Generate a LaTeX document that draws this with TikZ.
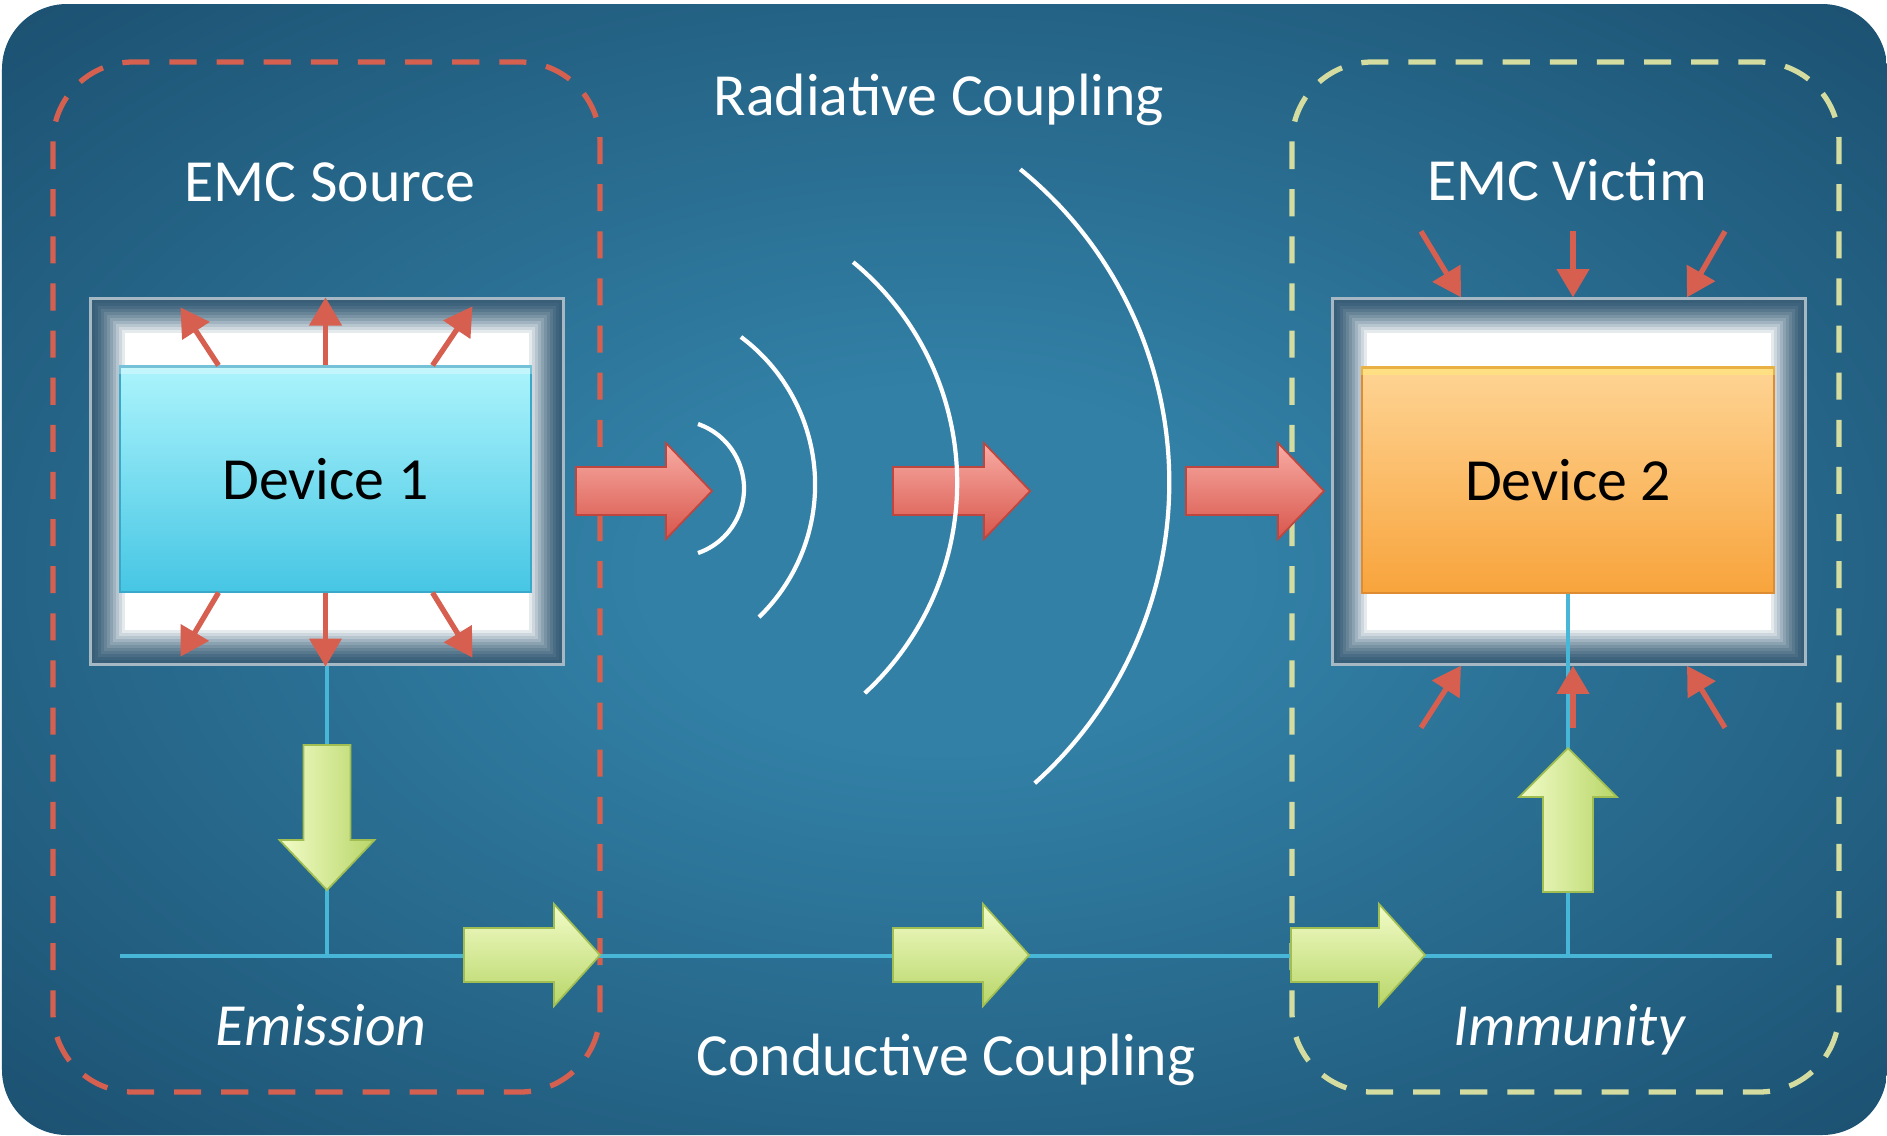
\documentclass[tikz,border=0pt]{standalone}
\usepackage{fontspec}
\setmainfont{Carlito}
\usetikzlibrary{arrows.meta,calc}

\definecolor{bgin}{RGB}{50,128,166}
\definecolor{bgout}{RGB}{19,62,92}
\definecolor{frameblue}{RGB}{56,94,120}
\definecolor{framegray}{RGB}{165,184,196}
\definecolor{cyantop}{RGB}{172,244,252}
\definecolor{cyanbot}{RGB}{70,198,228}
\definecolor{cyanedge}{RGB}{58,168,200}
\definecolor{orgtop}{RGB}{254,212,148}
\definecolor{orgbot}{RGB}{248,164,60}
\definecolor{orgedge}{RGB}{222,140,50}
\definecolor{raycol}{RGB}{214,95,80}
\definecolor{srccol}{RGB}{214,96,80}
\definecolor{viccol}{RGB}{212,220,160}
\definecolor{buscol}{RGB}{72,182,214}
\definecolor{glight}{RGB}{242,252,200}
\definecolor{gdark}{RGB}{184,214,104}
\definecolor{gline}{RGB}{160,190,82}
\definecolor{rlight}{RGB}{248,172,164}
\definecolor{rdark}{RGB}{216,86,76}
\definecolor{rline}{RGB}{190,70,62}

\pgfdeclareradialshading{bgshade}{\pgfpoint{0bp}{0bp}}{color(0bp)=(bgin); color(8bp)=(bgin); color(46bp)=(bgout); color(80bp)=(bgout)}

\tikzstyle{devframe}=[draw=framegray, fill=frameblue, line width=1.2pt, minimum width=4.72cm, minimum height=3.64cm, inner sep=0pt]
\tikzstyle{device}=[minimum width=4.11cm, minimum height=2.25cm, inner sep=0pt, line width=0.6pt, font=\fontsize{17}{20}\selectfont, text=black]
\tikzstyle{heading}=[text=white, font=\fontsize{17}{20}\selectfont, anchor=base]
\tikzstyle{zone}=[heading, font=\fontsize{17}{20}\selectfont\itshape]
\tikzstyle{srczone}=[draw=srccol, line width=1.5pt, dash pattern=on 7.7pt off 5.7pt, rounded corners=0.8cm]
\tikzstyle{viczone}=[srczone, draw=viccol]
\tikzstyle{ray}=[draw=raycol, line width=1.5pt, -{Triangle[length=8pt,width=9pt]}]
\tikzstyle{bus}=[draw=buscol, line width=1.4pt]
\tikzstyle{wave}=[draw=white, line width=1.2pt]
\tikzstyle{gblockh}=[draw=gline, line width=0.5pt, top color=glight, bottom color=gdark]
\tikzstyle{gblockv}=[draw=gline, line width=0.5pt, left color=glight, right color=gdark]
\tikzstyle{rblock}=[draw=rline, line width=0.5pt, top color=rlight, bottom color=rdark]

% block arrows: style, tail x, tip x, mid y, half shaft
\newcommand{\harrow}[5]{\path[#1] (#2,#4-#5) -- (#3-46,#4-#5) -- (#3-46,#4-#5-24) -- (#3,#4) -- (#3-46,#4+#5+24) -- (#3-46,#4+#5) -- (#2,#4+#5) -- cycle;}
% style, x, tail y, tip y, head y, half shaft
\newcommand{\varrow}[6]{\path[#1] (#2-#6,#3) -- (#2-#6,#5) -- (#2-#6-24,#5) -- (#2,#4) -- (#2+#6+24,#5) -- (#2+#6,#5) -- (#2+#6,#3) -- cycle;}

\begin{document}
\begin{tikzpicture}[x=0.01cm, y=-0.01cm]
	\useasboundingbox (0,0) rectangle (1887,1135);
	\fill[white] (0,0) rectangle (1887,1135);
	%% the panel
	\shade[shading=bgshade, rounded corners=0.65cm] (2,4) rectangle (1887,1135);
	%% source and victim zones
	\draw[srczone] (53,62) rectangle (600,1092);
	\draw[viczone] (1292,62) rectangle (1839,1092);
	%% the device frames
	\node[devframe] (f1) at (327,481.5) {};
	\node[devframe] (f2) at (1569,481.5) {};
	\foreach \f in {f1,f2}{
		\foreach \i in {1,...,12}{
			\pgfmathtruncatemacro{\p}{100*((\i-1)/11)^1.4}
			\fill[white!\p!frameblue] ($(\f.north west)+(\i*3,\i*3)$) rectangle ($(\f.south east)-(\i*3,\i*3)$);
		}
	}
	%% the devices
	\node[device, top color=cyantop, bottom color=cyanbot, draw=cyanedge] (d1) at (325.5,479) {Device 1};
	\node[device, top color=orgtop, bottom color=orgbot, draw=orgedge] (d2) at (1568,480) {Device 2};
	\fill[white, opacity=0.3] (d1.north west) rectangle ($(d1.north east)+(0,9)$);
	\fill[yellow!60!white, opacity=0.35] (d2.north west) rectangle ($(d2.north east)+(0,9)$);
	%% conductive path
	\coordinate (busL) at (120,956);
	\coordinate (busR) at (1772,956);
	\draw[bus] (busL) -- (busR);
	\draw[bus] (f1.south) -- (f1.south |- busL);
	\draw[bus] (d2.south) -- (d2.south |- busL);
	\varrow{gblockv}{327}{745}{890}{840}{23.5}
	\varrow{gblockv}{1568}{892}{748}{797}{25}
	\harrow{gblockh}{464}{600}{955}{27}
	\harrow{gblockh}{893}{1029}{955}{27}
	\harrow{gblockh}{1291}{1425}{955}{27}
	%% radiative path
	\harrow{rblock}{576}{712}{491}{24}
	\harrow{rblock}{893}{1030}{491}{24}
	\harrow{rblock}{1186}{1324}{491}{24}
	\draw[wave] (675.8,488.5) ++(-71:68.2) arc[start angle=-71, end angle=71, radius=68.2];
	\draw[wave] (630.8,484.7) ++(-53.3:184.3) arc[start angle=-53.3, end angle=45.9, radius=184.3];
	\draw[wave] (671.3,482.7) ++(-50.5:285.9) arc[start angle=-50.5, end angle=47.4, radius=285.9];
	\draw[wave] (765.8,482.4) ++(-50.9:403.5) arc[start angle=-50.9, end angle=48.2, radius=403.5];
	%% emitted and received fields
	\foreach \dx/\ex/\ey in {-107/-38/58, 0/0/68, 107/40/59}{
		\draw[ray] ($(d1.north)+(\dx,0)$) -- ++(\ex,-\ey);
		\draw[ray] ($(d1.south)+(\dx,0)$) -- ++(\ex,\ey+6);
	}
	\foreach \dx/\ex in {-108/-40, 4/0, 118/38}{
		\draw[ray] ($(f2.north)+(\dx,0)+(\ex,-66)$) -- ($(f2.north)+(\dx,0)$);
		\draw[ray] ($(f2.south)+(\dx,0)+(\ex,62)$) -- ($(f2.south)+(\dx,0)$);
	}
	%% the labels
	\node[heading] (radlbl) at (939,115) {Radiative Coupling};
	\node[heading] (srclbl) at (330,201) {EMC Source};
	\node[heading] (viclbl) at (1567,200) {EMC Victim};
	\node[zone] (emilbl) at (321,1045) {Emission};
	\node[zone] (immlbl) at (1569,1045) {Immunity};
	\node[heading] (condlbl) at (946,1075) {Conductive Coupling};
\end{tikzpicture}
\end{document}
